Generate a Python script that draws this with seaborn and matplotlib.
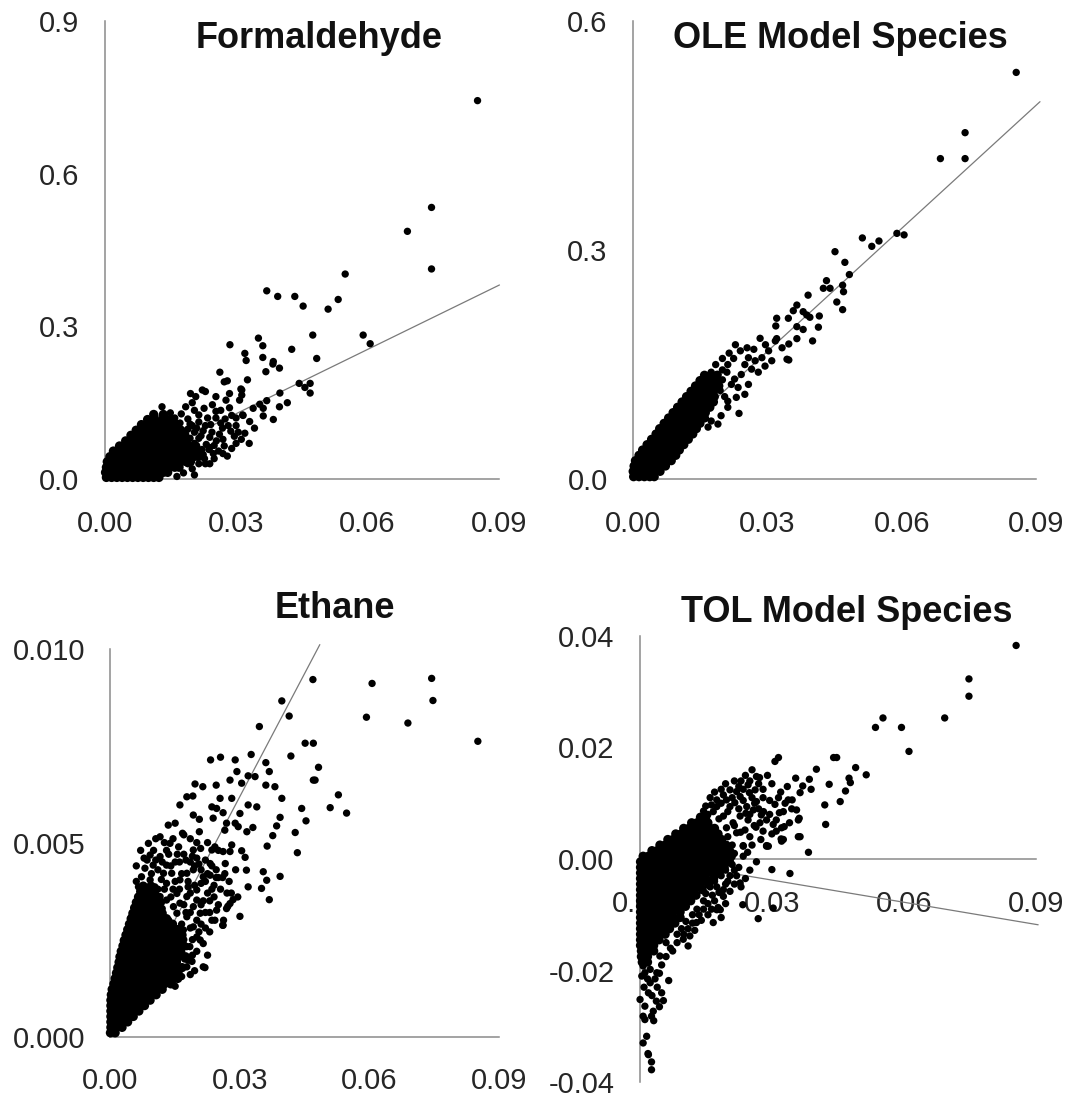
import matplotlib
matplotlib.use("Agg")
import matplotlib.pyplot as plt
import pandas as pd
import seaborn as sns

# ---------------------------------------------------------------- data
x_ticks = [0.00, 0.03, 0.06, 0.09]
x_tick_labels = ["0.00", "0.03", "0.06", "0.09"]

titles = ["Formaldehyde", "OLE Model Species", "Ethane", "TOL Model Species"]

# Formaldehyde -------------------------------------------------------
formaldehyde_yticks = [0.0, 0.3, 0.6, 0.9]
formaldehyde_ylabels = ["0.0", "0.3", "0.6", "0.9"]
formaldehyde_ylim = (0.0, 0.9)
formaldehyde_fit_x = [0.0, 0.0901]
formaldehyde_fit_y = [0.002, 0.3815]
# dense low-concentration core, one row per y level
formaldehyde_core = [
    (0.003, [0.0004, 0.0016, 0.0028, 0.0040, 0.0052, 0.0064, 0.0076, 0.0088, 0.0100, 0.0112, 0.0124]),
    (0.013, [0.0002, 0.0014, 0.0026, 0.0038, 0.0050, 0.0062, 0.0074, 0.0086, 0.0098, 0.0110, 0.0122, 0.0134, 0.0144]),
    (0.023, [0.0004, 0.0016, 0.0028, 0.0040, 0.0052, 0.0064, 0.0076, 0.0088, 0.0100, 0.0112, 0.0124, 0.0136, 0.0148, 0.0160, 0.0170]),
    (0.034, [0.0006, 0.0018, 0.0030, 0.0042, 0.0054, 0.0066, 0.0078, 0.0090, 0.0102, 0.0114, 0.0126, 0.0138, 0.0150, 0.0162, 0.0174, 0.0186, 0.0196]),
    (0.044, [0.0012, 0.0024, 0.0036, 0.0048, 0.0060, 0.0072, 0.0084, 0.0096, 0.0108, 0.0120, 0.0132, 0.0144, 0.0156, 0.0168, 0.0180, 0.0192, 0.0204, 0.0214]),
    (0.055, [0.0020, 0.0032, 0.0044, 0.0056, 0.0068, 0.0080, 0.0092, 0.0104, 0.0116, 0.0128, 0.0140, 0.0152, 0.0164, 0.0176, 0.0188, 0.0200, 0.0214]),
    (0.065, [0.0034, 0.0046, 0.0058, 0.0070, 0.0082, 0.0094, 0.0106, 0.0118, 0.0130, 0.0142, 0.0154, 0.0166, 0.0178, 0.0192, 0.0208]),
    (0.075, [0.0048, 0.0060, 0.0072, 0.0084, 0.0096, 0.0108, 0.0120, 0.0132, 0.0144, 0.0156, 0.0170, 0.0186]),
    (0.086, [0.0060, 0.0072, 0.0084, 0.0096, 0.0108, 0.0120, 0.0132, 0.0146, 0.0162, 0.0180]),
    (0.096, [0.0072, 0.0084, 0.0096, 0.0108, 0.0122, 0.0138, 0.0156, 0.0174]),
    (0.107, [0.0084, 0.0098, 0.0112, 0.0128, 0.0146, 0.0166]),
    (0.117, [0.0098, 0.0114, 0.0132, 0.0152]),
    (0.127, [0.0112, 0.0134]),
]
formaldehyde_pts = [
    (0.0851, 0.744), (0.0746, 0.534), (0.0691, 0.487), (0.0746, 0.413), (0.0549, 0.403),
    (0.0533, 0.353), (0.0510, 0.334), (0.0370, 0.370), (0.0395, 0.359), (0.0434, 0.359),
    (0.0453, 0.340), (0.0475, 0.283), (0.0590, 0.283), (0.0606, 0.266), (0.0351, 0.277),
    (0.0361, 0.262), (0.0427, 0.255), (0.0484, 0.237), (0.0286, 0.264), (0.0320, 0.247),
    (0.0323, 0.233), (0.0361, 0.239), (0.0385, 0.231), (0.0384, 0.226), (0.0399, 0.218),
    (0.0368, 0.211), (0.0326, 0.195), (0.0313, 0.175), (0.0313, 0.165), (0.0444, 0.188),
    (0.0469, 0.188), (0.0457, 0.180), (0.0469, 0.169), (0.0400, 0.169), (0.0370, 0.154),
    (0.0417, 0.150), (0.0399, 0.142), (0.0339, 0.139), (0.0362, 0.139), (0.0362, 0.124),
    (0.0316, 0.125), (0.0263, 0.210), (0.0273, 0.191), (0.0280, 0.193), (0.0311, 0.177),
    (0.0308, 0.155), (0.0285, 0.168), (0.0277, 0.155), (0.0254, 0.162), (0.0223, 0.175),
    (0.0208, 0.162), (0.0196, 0.168), (0.0230, 0.172), (0.0200, 0.150), (0.0185, 0.142),
    (0.0131, 0.142), (0.0385, 0.117), (0.0354, 0.147), (0.0331, 0.113), (0.0342, 0.100),
    (0.0315, 0.126), (0.0300, 0.120), (0.0288, 0.094), (0.0296, 0.084), (0.0269, 0.100),
    (0.0254, 0.120), (0.0242, 0.107), (0.0273, 0.065), (0.0238, 0.058), (0.0215, 0.126),
    (0.0227, 0.139), (0.0246, 0.146), (0.0115, 0.123), (0.0096, 0.104), (0.0254, 0.133),
    (0.0205, 0.135), (0.0175, 0.128), (0.0160, 0.120), (0.0190, 0.118), (0.0225, 0.095),
    (0.0240, 0.082), (0.0255, 0.075), (0.0262, 0.088), (0.0232, 0.068), (0.0215, 0.080),
    (0.0248, 0.050), (0.0228, 0.040), (0.0260, 0.055), (0.0300, 0.070), (0.0312, 0.078),
    (0.0320, 0.090), (0.0282, 0.105), (0.0200, 0.105), (0.0215, 0.112), (0.0230, 0.030),
    (0.0180, 0.012), (0.0165, 0.005), (0.0200, 0.020), (0.0215, 0.030), (0.0225, 0.048),
    (0.0240, 0.062), (0.0222, 0.058), (0.0205, 0.070), (0.0220, 0.085), (0.0205, 0.092),
    (0.0190, 0.098), (0.0195, 0.108), (0.0172, 0.110), (0.0150, 0.130), (0.0140, 0.120),
    (0.0250, 0.040), (0.0270, 0.078), (0.0290, 0.060), (0.0330, 0.070), (0.0280, 0.045),
    (0.0175, 0.070), (0.0195, 0.080), (0.0210, 0.100), (0.0185, 0.088), (0.0230, 0.105),
    (0.0245, 0.092), (0.0265, 0.110), (0.0235, 0.120), (0.0265, 0.135), (0.0285, 0.140),
    (0.0290, 0.125), (0.0275, 0.118), (0.0300, 0.105), (0.0305, 0.092), (0.0250, 0.066),
    (0.0270, 0.050), (0.0240, 0.030), (0.0205, 0.008), (0.0190, 0.030),
]

# OLE model species ---------------------------------------------------
ole_yticks = [0.0, 0.3, 0.6]
ole_ylabels = ["0.0", "0.3", "0.6"]
ole_ylim = (0.0, 0.6)
ole_fit_x = [0.0, 0.0908]
ole_fit_y = [0.0055, 0.4946]
ole_core = [
    (0.003, [0.0002, 0.0014, 0.0026, 0.0038, 0.0048]),
    (0.010, [0.0001, 0.0013, 0.0025, 0.0037, 0.0049, 0.0061]),
    (0.017, [0.0003, 0.0015, 0.0027, 0.0039, 0.0051, 0.0063, 0.0073]),
    (0.024, [0.0006, 0.0018, 0.0030, 0.0042, 0.0054, 0.0066, 0.0078, 0.0086]),
    (0.031, [0.0014, 0.0026, 0.0038, 0.0050, 0.0062, 0.0074, 0.0086, 0.0096]),
    (0.038, [0.0022, 0.0034, 0.0046, 0.0058, 0.0070, 0.0082, 0.0094, 0.0104]),
    (0.045, [0.0032, 0.0044, 0.0056, 0.0068, 0.0080, 0.0092, 0.0104, 0.0114]),
    (0.052, [0.0042, 0.0054, 0.0066, 0.0078, 0.0090, 0.0102, 0.0114, 0.0124]),
    (0.059, [0.0052, 0.0064, 0.0076, 0.0088, 0.0100, 0.0112, 0.0124, 0.0134]),
    (0.066, [0.0060, 0.0072, 0.0084, 0.0096, 0.0108, 0.0120, 0.0132, 0.0142]),
    (0.073, [0.0070, 0.0082, 0.0094, 0.0106, 0.0118, 0.0130, 0.0142, 0.0150]),
    (0.080, [0.0080, 0.0092, 0.0104, 0.0116, 0.0128, 0.0140, 0.0152, 0.0160]),
    (0.087, [0.0090, 0.0102, 0.0114, 0.0126, 0.0138, 0.0150, 0.0162]),
    (0.094, [0.0100, 0.0112, 0.0124, 0.0136, 0.0148, 0.0160, 0.0172]),
    (0.101, [0.0110, 0.0122, 0.0134, 0.0146, 0.0158, 0.0170, 0.0180]),
    (0.108, [0.0120, 0.0132, 0.0144, 0.0156, 0.0168, 0.0182]),
    (0.115, [0.0130, 0.0142, 0.0154, 0.0166, 0.0180]),
    (0.122, [0.0140, 0.0152, 0.0164, 0.0178, 0.0192]),
    (0.129, [0.0150, 0.0162, 0.0176, 0.0190]),
    (0.136, [0.0160, 0.0174, 0.0188]),
]
ole_pts = [
    (0.0855, 0.533), (0.0741, 0.454), (0.0741, 0.420), (0.0686, 0.420), (0.0589, 0.322),
    (0.0605, 0.320), (0.0512, 0.316), (0.0533, 0.305), (0.0549, 0.312), (0.0451, 0.298),
    (0.0473, 0.284), (0.0483, 0.268), (0.0432, 0.260), (0.0425, 0.250), (0.0440, 0.250),
    (0.0468, 0.254), (0.0470, 0.2455), (0.0391, 0.241), (0.0455, 0.232), (0.0468, 0.222),
    (0.0366, 0.228), (0.0358, 0.2206), (0.0380, 0.2193), (0.0388, 0.215), (0.0395, 0.212),
    (0.0416, 0.2137), (0.0321, 0.2107), (0.0347, 0.2107), (0.0319, 0.2006), (0.0366, 0.1997),
    (0.0380, 0.196), (0.0414, 0.199), (0.0284, 0.1844), (0.0321, 0.184), (0.0366, 0.184),
    (0.0401, 0.181), (0.0229, 0.176), (0.0348, 0.156), (0.0237, 0.086), (0.0126, 0.107),
    (0.0148, 0.110), (0.0348, 0.177), (0.0333, 0.172), (0.0303, 0.168), (0.0288, 0.159),
    (0.0273, 0.155), (0.0258, 0.159), (0.0250, 0.150), (0.0265, 0.144), (0.0280, 0.140),
    (0.0295, 0.148), (0.0310, 0.155), (0.0344, 0.157), (0.0242, 0.137), (0.0227, 0.131),
    (0.0220, 0.124), (0.0235, 0.120), (0.0258, 0.124), (0.0250, 0.111), (0.0231, 0.107),
    (0.0212, 0.102), (0.0197, 0.083), (0.0212, 0.094), (0.0175, 0.076), (0.0190, 0.072),
    (0.0168, 0.068), (0.0190, 0.137), (0.0212, 0.150), (0.0200, 0.143), (0.0175, 0.140),
    (0.0185, 0.150), (0.0200, 0.158), (0.0215, 0.165), (0.0225, 0.158), (0.0240, 0.168),
    (0.0255, 0.172), (0.0270, 0.170), (0.0170, 0.128), (0.0185, 0.125), (0.0200, 0.130),
    (0.0210, 0.140), (0.0195, 0.116), (0.0205, 0.108), (0.0318, 0.181), (0.0296, 0.176),
]

# Ethane --------------------------------------------------------------
ethane_yticks = [0.000, 0.005, 0.010]
ethane_ylabels = ["0.000", "0.005", "0.010"]
ethane_ylim = (0.0, 0.010)
ethane_fit_x = [0.0007, 0.0485]
ethane_fit_y = [0.0, 0.0101]
ethane_core = [
    (0.00010, [0.0000, 0.0011]),
    (0.00024, [0.0001, 0.0014, 0.0027]),
    (0.00038, [0.0001, 0.0014, 0.0027, 0.0040]),
    (0.00052, [0.0001, 0.0014, 0.0027, 0.0040, 0.0053]),
    (0.00066, [0.0001, 0.0014, 0.0027, 0.0040, 0.0053, 0.0066]),
    (0.00080, [0.0001, 0.0014, 0.0027, 0.0040, 0.0053, 0.0066, 0.0079]),
    (0.00094, [0.0001, 0.0014, 0.0027, 0.0040, 0.0053, 0.0066, 0.0079, 0.0092]),
    (0.00108, [0.0002, 0.0015, 0.0028, 0.0041, 0.0054, 0.0067, 0.0080, 0.0093, 0.0106]),
    (0.00122, [0.0004, 0.0017, 0.0030, 0.0043, 0.0056, 0.0069, 0.0082, 0.0095, 0.0108, 0.0120]),
    (0.00136, [0.0008, 0.0021, 0.0034, 0.0047, 0.0060, 0.0073, 0.0086, 0.0099, 0.0112, 0.0125, 0.0140]),
    (0.00150, [0.0011, 0.0024, 0.0037, 0.0050, 0.0063, 0.0076, 0.0089, 0.0102, 0.0115, 0.0128, 0.0141, 0.0156]),
    (0.00164, [0.0014, 0.0027, 0.0040, 0.0053, 0.0066, 0.0079, 0.0092, 0.0105, 0.0118, 0.0131, 0.0146]),
    (0.00178, [0.0017, 0.0030, 0.0043, 0.0056, 0.0069, 0.0082, 0.0095, 0.0108, 0.0121, 0.0134, 0.0150, 0.0166]),
    (0.00192, [0.0020, 0.0033, 0.0046, 0.0059, 0.0072, 0.0085, 0.0098, 0.0111, 0.0124, 0.0139, 0.0153]),
    (0.00206, [0.0022, 0.0035, 0.0048, 0.0061, 0.0074, 0.0087, 0.0100, 0.0113, 0.0126, 0.0142, 0.0158, 0.0174]),
    (0.00220, [0.0025, 0.0038, 0.0051, 0.0064, 0.0077, 0.0090, 0.0103, 0.0116, 0.0131, 0.0147, 0.0163]),
    (0.00234, [0.0029, 0.0042, 0.0055, 0.0068, 0.0081, 0.0094, 0.0107, 0.0120, 0.0136, 0.0152, 0.0170]),
    (0.00248, [0.0032, 0.0045, 0.0058, 0.0071, 0.0084, 0.0097, 0.0110, 0.0124, 0.0140, 0.0158]),
    (0.00262, [0.0036, 0.0049, 0.0062, 0.0075, 0.0088, 0.0101, 0.0114, 0.0130, 0.0148, 0.0166]),
    (0.00276, [0.0040, 0.0053, 0.0066, 0.0079, 0.0092, 0.0105, 0.0120, 0.0138, 0.0156]),
    (0.00290, [0.0044, 0.0057, 0.0070, 0.0083, 0.0096, 0.0110, 0.0126, 0.0144]),
    (0.00304, [0.0048, 0.0061, 0.0074, 0.0087, 0.0100, 0.0114, 0.0130]),
    (0.00318, [0.0052, 0.0065, 0.0078, 0.0091, 0.0104, 0.0120]),
    (0.00332, [0.0056, 0.0069, 0.0082, 0.0095, 0.0110]),
    (0.00346, [0.0060, 0.0073, 0.0086, 0.0100, 0.0116]),
    (0.00360, [0.0065, 0.0078, 0.0092, 0.0108]),
    (0.00374, [0.0070, 0.0086, 0.0102]),
    (0.00388, [0.0076, 0.0094]),
]
ethane_pts = [
    (0.0469, 0.00920), (0.0606, 0.00910), (0.0744, 0.00923), (0.0747, 0.00866), (0.0593, 0.00823),
    (0.0689, 0.00808), (0.0851, 0.00761), (0.0397, 0.00865), (0.0414, 0.00826), (0.0345, 0.00799),
    (0.0451, 0.00756), (0.0470, 0.00756), (0.0418, 0.00723), (0.0482, 0.00694), (0.0470, 0.00661),
    (0.0474, 0.00661), (0.0326, 0.00727), (0.0232, 0.00713), (0.0255, 0.00720), (0.0289, 0.00713),
    (0.0293, 0.00683), (0.0277, 0.00661), (0.0304, 0.00653), (0.0319, 0.00672), (0.0335, 0.00670),
    (0.0360, 0.00706), (0.0368, 0.00683), (0.0360, 0.00648), (0.0381, 0.00644), (0.0397, 0.00614),
    (0.0443, 0.00588), (0.0453, 0.00556), (0.0509, 0.00590), (0.0528, 0.00623), (0.0547, 0.00576),
    (0.0196, 0.00651), (0.0214, 0.00644), (0.0245, 0.00648), (0.0177, 0.00618), (0.0191, 0.00620),
    (0.0161, 0.00597), (0.0254, 0.00614), (0.0281, 0.00614), (0.0319, 0.00597), (0.0339, 0.00592),
    (0.0235, 0.00592), (0.0246, 0.00588), (0.0261, 0.00577), (0.0300, 0.00575), (0.0192, 0.00571),
    (0.0206, 0.00560), (0.0238, 0.00563), (0.0269, 0.00550), (0.0289, 0.00550), (0.0296, 0.00541),
    (0.0330, 0.00539), (0.0316, 0.00528), (0.0393, 0.00565), (0.0385, 0.00543), (0.0376, 0.00518),
    (0.0428, 0.00526), (0.0363, 0.00491), (0.0433, 0.00474), (0.0167, 0.00524), (0.0206, 0.00528),
    (0.0265, 0.00532), (0.0281, 0.00494), (0.0192, 0.00481), (0.0209, 0.00485), (0.0235, 0.00481),
    (0.0261, 0.00477), (0.0277, 0.00477), (0.0304, 0.00479), (0.0312, 0.00462), (0.0242, 0.00489),
    (0.0315, 0.00429), (0.0319, 0.00386), (0.0350, 0.00382), (0.0354, 0.00425), (0.0362, 0.00403),
    (0.0368, 0.00353), (0.0277, 0.00343), (0.0269, 0.00330), (0.0246, 0.00326), (0.0242, 0.00300),
    (0.0260, 0.00287), (0.0262, 0.00300), (0.0208, 0.00249), (0.0215, 0.00180), (0.0184, 0.00232),
    (0.0180, 0.00197), (0.0161, 0.00223), (0.0231, 0.00446), (0.0266, 0.00446), (0.0215, 0.00412),
    (0.0231, 0.00416), (0.0192, 0.00430), (0.0393, 0.00413), (0.0284, 0.00353), (0.0272, 0.00336),
    (0.0261, 0.00287), (0.0219, 0.00178), (0.0189, 0.00194), (0.0115, 0.00515), (0.0134, 0.00545),
    (0.0088, 0.00498), (0.0138, 0.00498), (0.0158, 0.00489), (0.0092, 0.00468), (0.0115, 0.00464),
    (0.0080, 0.00434), (0.0099, 0.00442), (0.0130, 0.00442), (0.0142, 0.00421), (0.0123, 0.00421),
    (0.0072, 0.00412), (0.0065, 0.00386), (0.0092, 0.00404), (0.0103, 0.00386), (0.0130, 0.00395),
    (0.0161, 0.00404), (0.0154, 0.00369), (0.0130, 0.00352), (0.0115, 0.00361), (0.0092, 0.00374),
    (0.0057, 0.00335), (0.0049, 0.00309), (0.0161, 0.00344), (0.0154, 0.00318), (0.0146, 0.00335),
    (0.0177, 0.00421), (0.0180, 0.00386), (0.0177, 0.00361), (0.0200, 0.00378), (0.0200, 0.00352),
    (0.0192, 0.00335), (0.0208, 0.00318), (0.0177, 0.00309), (0.0192, 0.00283), (0.0169, 0.00275),
    (0.0200, 0.00257), (0.0157, 0.00257), (0.0177, 0.00232), (0.0154, 0.00206), (0.0177, 0.00180),
    (0.0165, 0.00155), (0.0146, 0.00146), (0.0210, 0.00395), (0.0225, 0.00370), (0.0240, 0.00390),
    (0.0250, 0.00410), (0.0135, 0.00300), (0.0120, 0.00330), (0.0140, 0.00270), (0.0165, 0.00290),
    (0.0110, 0.00380), (0.0075, 0.00370), (0.0145, 0.00380), (0.0190, 0.00250), (0.0230, 0.00270),
    (0.0120, 0.00450), (0.0135, 0.00470), (0.0150, 0.00450), (0.0170, 0.00470), (0.0185, 0.00450),
    (0.0165, 0.00420), (0.0150, 0.00400), (0.0140, 0.00360), (0.0170, 0.00340), (0.0185, 0.00370),
    (0.0215, 0.00350), (0.0230, 0.00320), (0.0220, 0.00280), (0.0240, 0.00360), (0.0255, 0.00380),
    (0.0275, 0.00400), (0.0290, 0.00430), (0.0295, 0.00360), (0.0300, 0.00310), (0.0250, 0.00480),
    (0.0225, 0.00500), (0.0200, 0.00460), (0.0170, 0.00520), (0.0150, 0.00550), (0.0100, 0.00480),
    (0.0078, 0.00460), (0.0060, 0.00400), (0.0200, 0.00220), (0.0195, 0.00170), (0.0210, 0.00290),
    (0.0125, 0.00380), (0.0130, 0.00480), (0.0110, 0.00430), (0.0160, 0.00450), (0.0180, 0.00400),
    (0.0195, 0.00440), (0.0210, 0.00430), (0.0225, 0.00420), (0.0245, 0.00430), (0.0260, 0.00410),
    (0.0280, 0.00370), (0.0250, 0.00340), (0.0235, 0.00300), (0.0220, 0.00320), (0.0205, 0.00270),
    (0.0215, 0.00240), (0.0225, 0.00210), (0.0185, 0.00280), (0.0170, 0.00250), (0.0190, 0.00210),
    (0.0172, 0.00200), (0.0185, 0.00160), (0.0160, 0.00170), (0.0150, 0.00130),
    (0.0060, 0.00440), (0.0070, 0.00480), (0.0085, 0.00455), (0.0095, 0.00420), (0.0105, 0.00455),
    (0.0118, 0.00405), (0.0140, 0.00440), (0.0155, 0.00470), (0.0175, 0.00455), (0.0190, 0.00465),
    (0.0205, 0.00445), (0.0220, 0.00455), (0.0235, 0.00440), (0.0145, 0.00510), (0.0125, 0.00500),
    (0.0105, 0.00510), (0.0185, 0.00510), (0.0200, 0.00500), (0.0220, 0.00400), (0.0235, 0.00380),
    (0.0195, 0.00390), (0.0160, 0.00380), (0.0175, 0.00320), (0.0200, 0.00300), (0.0185, 0.00320),
    (0.0210, 0.00340), (0.0230, 0.00350), (0.0245, 0.00410), (0.0265, 0.00420), (0.0270, 0.00370),
]

# TOL model species ---------------------------------------------------
tol_yticks = [-0.04, -0.02, 0.00, 0.02, 0.04]
tol_ylabels = ["-0.04", "-0.02", "0.00", "0.02", "0.04"]
tol_ylim = (-0.04, 0.04)
tol_fit_x = [0.0, 0.0904]
tol_fit_y = [0.0002, -0.0118]
tol_core = [
    (0.0075, [0.0138, 0.0150]),
    (0.0065, [0.0118, 0.0130, 0.0142, 0.0155]),
    (0.0055, [0.0100, 0.0112, 0.0124, 0.0136, 0.0148, 0.0160, 0.0170]),
    (0.0045, [0.0082, 0.0094, 0.0106, 0.0118, 0.0130, 0.0142, 0.0154, 0.0166, 0.0178]),
    (0.0035, [0.0064, 0.0076, 0.0088, 0.0100, 0.0112, 0.0124, 0.0136, 0.0148, 0.0160, 0.0172, 0.0186]),
    (0.0025, [0.0046, 0.0058, 0.0070, 0.0082, 0.0094, 0.0106, 0.0118, 0.0130, 0.0142, 0.0154, 0.0166, 0.0180, 0.0196]),
    (0.0015, [0.0028, 0.0040, 0.0052, 0.0064, 0.0076, 0.0088, 0.0100, 0.0112, 0.0124, 0.0136, 0.0148, 0.0160, 0.0174, 0.0190, 0.0204]),
    (0.0005, [0.0008, 0.0020, 0.0032, 0.0044, 0.0056, 0.0068, 0.0080, 0.0092, 0.0104, 0.0116, 0.0128, 0.0140, 0.0152, 0.0164, 0.0178, 0.0194, 0.0208]),
    (-0.0005, [0.0002, 0.0014, 0.0026, 0.0038, 0.0050, 0.0062, 0.0074, 0.0086, 0.0098, 0.0110, 0.0122, 0.0134, 0.0146, 0.0158, 0.0172, 0.0188, 0.0204]),
    (-0.0015, [0.0002, 0.0014, 0.0026, 0.0038, 0.0050, 0.0062, 0.0074, 0.0086, 0.0098, 0.0110, 0.0122, 0.0134, 0.0146, 0.0160, 0.0176, 0.0192]),
    (-0.0025, [0.0002, 0.0014, 0.0026, 0.0038, 0.0050, 0.0062, 0.0074, 0.0086, 0.0098, 0.0110, 0.0122, 0.0134, 0.0148, 0.0164, 0.0180]),
    (-0.0035, [0.0002, 0.0014, 0.0026, 0.0038, 0.0050, 0.0062, 0.0074, 0.0086, 0.0098, 0.0110, 0.0122, 0.0134, 0.0150, 0.0168]),
    (-0.0045, [0.0002, 0.0014, 0.0026, 0.0038, 0.0050, 0.0062, 0.0074, 0.0086, 0.0098, 0.0110, 0.0122, 0.0138, 0.0156]),
    (-0.0055, [0.0002, 0.0014, 0.0026, 0.0038, 0.0050, 0.0062, 0.0074, 0.0086, 0.0098, 0.0110, 0.0124, 0.0142]),
    (-0.0065, [0.0002, 0.0014, 0.0026, 0.0038, 0.0050, 0.0062, 0.0074, 0.0086, 0.0098, 0.0112, 0.0128]),
    (-0.0075, [0.0002, 0.0014, 0.0026, 0.0038, 0.0050, 0.0062, 0.0074, 0.0086, 0.0100, 0.0116]),
    (-0.0085, [0.0002, 0.0014, 0.0026, 0.0038, 0.0050, 0.0062, 0.0074, 0.0088, 0.0104]),
    (-0.0095, [0.0002, 0.0014, 0.0026, 0.0038, 0.0050, 0.0062, 0.0076, 0.0092]),
    (-0.0105, [0.0002, 0.0014, 0.0026, 0.0038, 0.0050, 0.0062, 0.0076, 0.0092]),
    (-0.0115, [0.0002, 0.0014, 0.0026, 0.0038, 0.0050, 0.0064, 0.0080]),
    (-0.0125, [0.0002, 0.0014, 0.0026, 0.0038, 0.0052, 0.0068]),
    (-0.0135, [0.0002, 0.0014, 0.0026, 0.0040, 0.0058]),
    (-0.0145, [0.0002, 0.0014, 0.0028, 0.0044]),
    (-0.0155, [0.0002, 0.0016, 0.0032]),
    (-0.0165, [0.0004, 0.0018, 0.0032]),
    (-0.0175, [0.0004, 0.0018]),
    (-0.0185, [0.0006, 0.0018]),
]
tol_pts = [
    (0.0854, 0.0383), (0.0747, 0.0323), (0.0747, 0.0292), (0.0692, 0.0253), (0.0552, 0.0253),
    (0.0535, 0.0236), (0.0594, 0.0236), (0.0611, 0.0193), (0.0315, 0.0182), (0.0307, 0.0175),
    (0.0440, 0.0182), (0.0447, 0.0182), (0.0490, 0.0164), (0.0514, 0.0151), (0.0401, 0.0161),
    (0.0475, 0.0145), (0.0478, 0.0137), (0.0430, 0.0134), (0.0467, 0.0122), (0.0455, 0.0103),
    (0.0420, 0.0097), (0.0422, 0.0062), (0.0385, 0.0143), (0.0370, 0.0131), (0.0389, 0.0125),
    (0.0354, 0.0145), (0.0364, 0.0119), (0.0362, 0.0073), (0.0364, 0.0040), (0.0383, 0.0012),
    (0.0346, 0.0106), (0.0317, 0.0083), (0.0328, 0.0058), (0.0321, 0.0036), (0.0292, 0.0023),
    (0.0300, -0.0019), (0.0341, -0.0026), (0.0272, 0.0146), (0.0249, 0.0119), (0.0261, 0.0100),
    (0.0276, 0.0079), (0.0241, 0.0082), (0.0229, 0.0048), (0.0264, 0.0057), (0.0228, -0.0043),
    (0.0269, -0.0107), (0.0234, -0.0082), (0.0303, -0.0088), (0.0167, -0.0114), (0.0175, -0.0091),
    (0.0183, -0.0091), (0.0190, -0.0055), (0.0265, 0.0148), (0.0246, 0.0133), (0.0262, 0.0124),
    (0.0220, 0.0121), (0.0228, 0.0112), (0.0197, 0.0106), (0.0205, 0.0094), (0.0175, 0.0094),
    (0.0167, 0.0085), (0.0163, 0.0097), (0.0190, 0.0077), (0.0243, 0.0094), (0.0258, 0.0088),
    (0.0265, 0.0103), (0.0281, 0.0085), (0.0288, 0.0070), (0.0273, 0.0065), (0.0303, 0.0062),
    (0.0322, 0.0056), (0.0307, 0.0098), (0.0326, 0.0085), (0.0337, 0.0106), (0.0356, 0.0088),
    (0.0360, 0.0070), (0.0360, 0.0040), (0.0326, 0.0035), (0.0288, 0.0023), (0.0239, 0.0052),
    (0.0250, 0.0040), (0.0235, 0.0023), (0.0235, 0.0005), (0.0205, -0.0058), (0.0190, -0.0067),
    (0.0178, -0.0087), (0.0163, -0.0090), (0.0129, -0.0114), (0.0114, -0.0138), (0.0110, -0.0156),
    (0.0099, -0.0144), (0.0205, 0.0124), (0.0190, 0.0115), (0.0175, 0.0106), (0.0216, 0.0101),
    (0.0228, 0.0077), (0.0212, 0.0065), (0.0246, 0.0070), (0.0220, 0.0047), (0.0197, 0.0056),
    (0.0145, 0.0086), (0.0155, 0.0080), (0.0180, 0.0072), (0.0200, 0.0085), (0.0288, 0.0024),
    (0.0322, 0.0032), (0.0235, 0.0024), (0.0066, -0.0218), (0.0054, -0.0254), (0.0019, -0.0349),
    (0.0016, -0.0318), (0.0027, -0.0364), (0.0050, -0.0240), (0.0020, -0.0240), (0.0012, -0.0204),
    (0.0024, -0.0222), (0.0001, -0.0252), (0.0012, -0.0264), (0.0031, -0.0273), (0.0008, -0.0282),
    (0.0027, -0.0282), (0.0012, -0.0288), (0.0008, -0.0330), (0.0020, -0.0351), (0.0027, -0.0378),
    (0.0008, -0.0192), (0.0024, -0.0198), (0.0039, -0.0204), (0.0046, -0.0174), (0.0070, -0.0160),
    (0.0060, -0.0150), (0.0085, -0.0135), (0.0095, -0.0125), (0.0105, -0.0112), (0.0120, -0.0100),
    (0.0130, -0.0090), (0.0145, -0.0075), (0.0150, -0.0062), (0.0160, -0.0050), (0.0170, -0.0040),
    (0.0185, -0.0030), (0.0195, -0.0020), (0.0210, -0.0010), (0.0215, 0.0010), (0.0210, 0.0025),
    (0.0200, 0.0040), (0.0215, 0.0060), (0.0225, 0.0090), (0.0235, 0.0105), (0.0250, 0.0080),
    (0.0260, 0.0060), (0.0270, 0.0090), (0.0280, 0.0110), (0.0295, 0.0080), (0.0300, 0.0045),
    (0.0310, 0.0070), (0.0275, 0.0035), (0.0255, 0.0025), (0.0245, 0.0012), (0.0265, -0.0005),
    (0.0250, -0.0020), (0.0225, -0.0015), (0.0220, -0.0030), (0.0215, -0.0045), (0.0200, -0.0040),
    (0.0195, -0.0080), (0.0185, -0.0105), (0.0170, -0.0075), (0.0155, -0.0100), (0.0140, -0.0110),
    (0.0125, -0.0128), (0.0110, -0.0125), (0.0100, -0.0135), (0.0085, -0.0150), (0.0075, -0.0165),
    (0.0060, -0.0175), (0.0050, -0.0190), (0.0045, -0.0205), (0.0035, -0.0215), (0.0040, -0.0230),
    (0.0028, -0.0245), (0.0018, -0.0215), (0.0010, -0.0230), (0.0005, -0.0210), (0.0032, -0.0290),
    (0.0045, -0.0265), (0.0038, -0.0255), (0.0160, 0.0110), (0.0150, 0.0095), (0.0170, 0.0120),
    (0.0185, 0.0125), (0.0195, 0.0135), (0.0215, 0.0140), (0.0230, 0.0140), (0.0240, 0.0150),
    (0.0255, 0.0160), (0.0280, 0.0125), (0.0290, 0.0150), (0.0300, 0.0135), (0.0320, 0.0120),
    (0.0335, 0.0130), (0.0345, 0.0090), (0.0340, 0.0065), (0.0310, 0.0050), (0.0280, 0.0050),
    (0.0215, -0.0020), (0.0230, -0.0050), (0.0240, -0.0035), (0.0205, -0.0030), (0.0195, -0.0045),
    (0.0180, -0.0060), (0.0175, -0.0050), (0.0165, -0.0065), (0.0155, -0.0080), (0.0145, -0.0090),
    (0.0135, -0.0100), (0.0120, -0.0115), (0.0255, 0.0110), (0.0235, 0.0125), (0.0210, 0.0110),
    (0.0185, 0.0100), (0.0270, 0.0135), (0.0250, 0.0140), (0.0225, 0.0130), (0.0295, 0.0105),
    (0.0315, 0.0110), (0.0330, 0.0100),
]


def to_frame(core_rows, pts):
    """Flatten the row-wise core and the scattered points into one table."""
    xs, ys, kind = [], [], []
    for y, row in core_rows:
        xs.extend(row)
        ys.extend([y] * len(row))
        kind.extend(["core"] * len(row))
    for x, y in pts:
        xs.append(x)
        ys.append(y)
        kind.append("spread")
    return pd.DataFrame({"x": xs, "y": ys, "kind": kind})


panels = [
    dict(df=to_frame(formaldehyde_core, formaldehyde_pts), fit=(formaldehyde_fit_x, formaldehyde_fit_y),
         ylim=formaldehyde_ylim, yt=formaldehyde_yticks, yl=formaldehyde_ylabels,
         rect=[0.09776, 0.56336, 0.36860, 0.41723], title_xy=(319, 47.5), zero_axis=False),
    dict(df=to_frame(ole_core, ole_pts), fit=(ole_fit_x, ole_fit_y),
         ylim=ole_ylim, yt=ole_yticks, yl=ole_ylabels,
         rect=[0.59131, 0.56336, 0.37729, 0.41723], title_xy=(840, 47.5), zero_axis=False),
    dict(df=to_frame(ethane_core, ethane_pts), fit=(ethane_fit_x, ethane_fit_y),
         ylim=ethane_ylim, yt=ethane_yticks, yl=ethane_ylabels,
         rect=[0.10318, 0.05497, 0.36318, 0.35387], title_xy=(334.5, 617.6), zero_axis=False),
    dict(df=to_frame(tol_core, tol_pts), fit=(tol_fit_x, tol_fit_y),
         ylim=tol_ylim, yt=tol_yticks, yl=tol_ylabels,
         rect=[0.59776, 0.01367, 0.37084, 0.40657], title_xy=(847, 621.7), zero_axis=True),
]

# ---------------------------------------------------------------- style
sns.set_style("white")
plt.rcParams["font.family"] = ["Liberation Sans", "DejaVu Sans"]

AXIS_GREY = "#8a8a8a"
FIT_GREY = "#7a7a7a"
W, H = 1070, 1097
# marker areas: the overlapping core points merge into a solid mass
MARKER_SIZES = {"core": 44, "spread": 28}

fig = plt.figure(figsize=(W / 100, H / 100), dpi=100)
fig.patch.set_facecolor("white")

for title, p in zip(titles, panels):
    ax = fig.add_axes(p["rect"])
    ax.set_facecolor("none")

    fx, fy = p["fit"]
    sns.lineplot(x=fx, y=fy, ax=ax, color=FIT_GREY, linewidth=0.9,
                 estimator=None, sort=False, zorder=0.8)
    ax.lines[-1].set_clip_on(False)

    sns.scatterplot(data=p["df"], x="x", y="y", ax=ax, size="kind",
                    sizes=MARKER_SIZES, color="black", edgecolor="none",
                    linewidth=0, legend=False, zorder=1)
    ax.collections[-1].set_clip_on(False)

    ax.set_xlim(0.0, 0.09)
    ax.set_ylim(*p["ylim"])
    ax.set_xticks(x_ticks)
    ax.set_xticklabels(x_tick_labels)
    ax.set_yticks(p["yt"])
    ax.set_yticklabels(p["yl"])
    ax.set_xlabel("")
    ax.set_ylabel("")

    for side in ("top", "right"):
        ax.spines[side].set_visible(False)
    for side in ("left", "bottom"):
        ax.spines[side].set_color(AXIS_GREY)
        ax.spines[side].set_linewidth(1.1)
        ax.spines[side].set_zorder(0.5)
    if p["zero_axis"]:
        ax.spines["bottom"].set_position(("data", 0.0))

    ax.set_axisbelow(True)
    ax.tick_params(direction="out", length=8, width=1.1, color=AXIS_GREY,
                   labelsize=21, labelcolor="#262626")
    ax.tick_params(axis="x", pad=14)
    ax.tick_params(axis="y", pad=10)

    tx, ty = p["title_xy"]
    fig.text(tx / W, 1 - ty / H, title, ha="center", va="baseline",
             fontsize=26, fontweight="bold", color="#111111")

fig.savefig("out.png", dpi=100, facecolor="white")
